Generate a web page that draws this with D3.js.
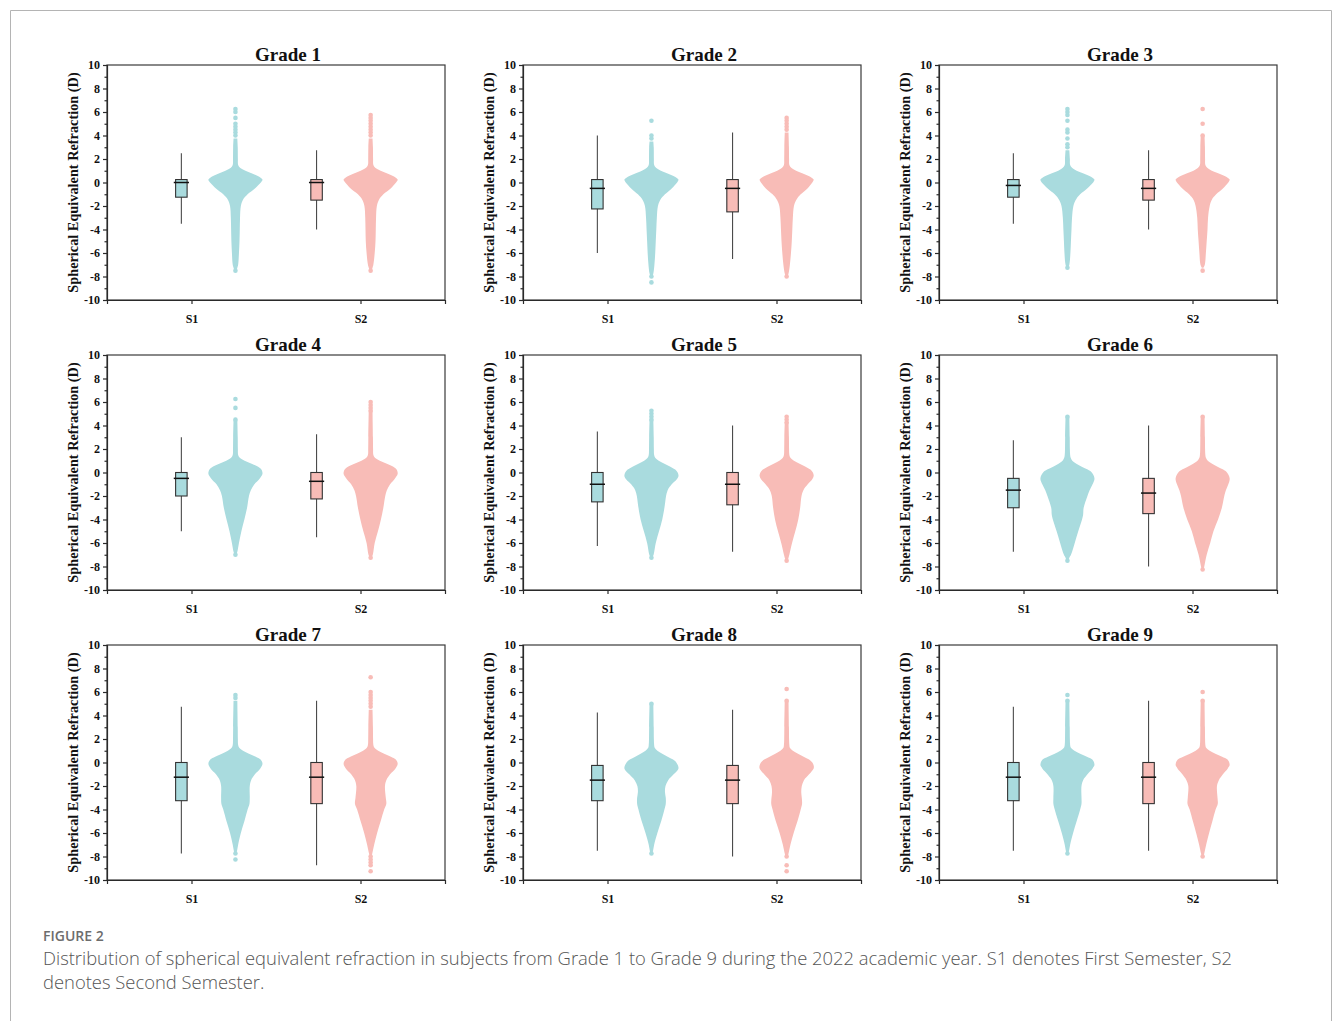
<!DOCTYPE html>
<html>
<head>
<meta charset="utf-8">
<script src="https://cdn.jsdelivr.net/npm/d3@7"></script>
<style>
  html, body { margin: 0; padding: 0; background: #fff; }
  svg { display: block; }
</style>
</head>
<body>
<svg id="fig" width="1333" height="1021"></svg>
<script>
// ---- data ----
const grades = ["Grade 1", "Grade 2", "Grade 3", "Grade 4", "Grade 5", "Grade 6", "Grade 7", "Grade 8", "Grade 9"];
const semesters = ["S1", "S2"];
const yTicks = [-10, -8, -6, -4, -2, 0, 2, 4, 6, 8, 10];
const yMinorTicks = [-9, -7, -5, -3, -1, 1, 3, 5, 7, 9];

// box summaries: [lower whisker, Q1, median, Q3, upper whisker]
const boxS1 = [
  [-3.5, -1.25, 0, 0.25, 2.5],
  [-6.0, -2.25, -0.5, 0.25, 4.0],
  [-3.5, -1.25, -0.25, 0.25, 2.5],
  [-5.0, -2.0, -0.5, 0, 3.0],
  [-6.25, -2.5, -1.0, 0, 3.5],
  [-6.75, -3.0, -1.5, -0.5, 2.75],
  [-7.75, -3.25, -1.25, 0, 4.75],
  [-7.5, -3.25, -1.5, -0.25, 4.25],
  [-7.5, -3.25, -1.25, 0, 4.75]
];
const boxS2 = [
  [-4.0, -1.5, 0, 0.25, 2.75],
  [-6.5, -2.5, -0.5, 0.25, 4.25],
  [-4.0, -1.5, -0.5, 0.25, 2.75],
  [-5.5, -2.25, -0.75, 0, 3.25],
  [-6.75, -2.75, -1.0, 0, 4.0],
  [-8.0, -3.5, -1.75, -0.5, 4.0],
  [-8.75, -3.5, -1.25, 0, 5.25],
  [-8.0, -3.5, -1.5, -0.25, 4.5],
  [-7.5, -3.5, -1.25, 0, 5.25]
];

// density profiles: [SE value (D), relative half-width]
const violinS1 = [
  [[-7.5,0.03],[-7.25,0.07],[-7,0.1],[-6,0.13],[-5,0.15],[-4,0.16],[-3,0.17],[-2,0.2],[-1.5,0.27],[-1,0.45],[-0.5,0.72],[0,0.94],[0.25,1],[0.5,0.88],[0.75,0.64],[1,0.37],[1.25,0.17],[1.5,0.1],[2,0.09],[3,0.085],[3.75,0.07]],
  [[-8,0.03],[-7.75,0.07],[-7,0.11],[-6,0.14],[-5,0.16],[-4,0.18],[-3,0.2],[-2,0.24],[-1.5,0.32],[-1,0.5],[-0.5,0.75],[0,0.95],[0.25,1],[0.5,0.87],[0.75,0.62],[1,0.35],[1.25,0.17],[1.5,0.1],[2,0.09],[3,0.085],[3.5,0.07]],
  [[-7.25,0.03],[-7,0.07],[-6,0.11],[-5,0.13],[-4,0.15],[-3,0.17],[-2,0.22],[-1.5,0.3],[-1,0.47],[-0.5,0.73],[0,0.95],[0.25,1],[0.5,0.87],[0.75,0.62],[1,0.34],[1.25,0.17],[1.5,0.1],[2,0.09],[2.75,0.07]],
  [[-7,0.03],[-6.75,0.07],[-6,0.13],[-5,0.22],[-4,0.33],[-3,0.43],[-2,0.5],[-1.5,0.57],[-1,0.7],[-0.5,0.9],[-0.1,1],[0.25,0.96],[0.5,0.84],[0.75,0.6],[1,0.34],[1.25,0.16],[1.5,0.1],[2,0.09],[3,0.085],[4.5,0.07]],
  [[-7.25,0.03],[-7,0.08],[-6,0.16],[-5,0.28],[-4,0.4],[-3,0.48],[-2.5,0.51],[-2,0.54],[-1.5,0.6],[-1,0.75],[-0.6,0.93],[-0.3,1],[0,0.97],[0.25,0.88],[0.5,0.7],[0.75,0.48],[1,0.27],[1.25,0.14],[1.5,0.1],[2,0.09],[3,0.085],[4.5,0.07]],
  [[-7.5,0.03],[-7.25,0.07],[-7,0.13],[-6,0.27],[-5,0.4],[-4,0.54],[-3.6,0.58],[-3,0.6],[-2,0.74],[-1.5,0.82],[-1,0.93],[-0.5,1],[0,0.9],[0.25,0.75],[0.5,0.53],[0.75,0.33],[1,0.18],[1.25,0.12],[1.5,0.1],[2,0.09],[3,0.085],[4.75,0.07]],
  [[-7.75,0.03],[-7.5,0.06],[-7,0.1],[-6,0.2],[-5,0.33],[-4,0.45],[-3.5,0.52],[-3,0.53],[-2,0.53],[-1.5,0.58],[-1,0.72],[-0.5,0.92],[-0.1,1],[0.25,0.93],[0.5,0.75],[0.75,0.5],[1,0.28],[1.25,0.14],[1.5,0.1],[2,0.09],[3,0.085],[5.25,0.07]],
  [[-7.75,0.03],[-7.5,0.06],[-7,0.1],[-6,0.22],[-5,0.36],[-4,0.48],[-3.5,0.53],[-3,0.53],[-2.5,0.5],[-2,0.52],[-1.5,0.62],[-1,0.82],[-0.5,1],[0,0.92],[0.25,0.8],[0.5,0.6],[0.75,0.4],[1,0.22],[1.25,0.12],[1.5,0.1],[2,0.09],[3,0.085],[5,0.07]],
  [[-7.75,0.03],[-7.5,0.06],[-7,0.1],[-6,0.21],[-5,0.34],[-4,0.47],[-3.5,0.52],[-3,0.52],[-2,0.52],[-1.5,0.58],[-1,0.74],[-0.5,0.93],[-0.2,1],[0.25,0.92],[0.5,0.72],[0.75,0.47],[1,0.26],[1.25,0.13],[1.5,0.1],[2,0.09],[3,0.085],[5.25,0.07]]
];
const violinS2 = [
  [[-7.5,0.03],[-7.25,0.07],[-7,0.1],[-6,0.15],[-5,0.18],[-4,0.19],[-3,0.2],[-2,0.23],[-1.5,0.3],[-1,0.47],[-0.5,0.74],[0,0.94],[0.25,1],[0.5,0.88],[0.75,0.64],[1,0.37],[1.25,0.17],[1.5,0.1],[2,0.09],[3,0.085],[3.75,0.07]],
  [[-8,0.03],[-7.75,0.07],[-7,0.12],[-6,0.16],[-5,0.19],[-4,0.21],[-3,0.23],[-2,0.27],[-1.5,0.35],[-1,0.52],[-0.5,0.77],[0,0.95],[0.25,1],[0.5,0.87],[0.75,0.62],[1,0.35],[1.25,0.17],[1.5,0.1],[2,0.09],[3,0.085],[4.25,0.07]],
  [[-7.25,0.03],[-7,0.08],[-6,0.12],[-5,0.15],[-4,0.18],[-3,0.2],[-2,0.26],[-1.5,0.33],[-1,0.5],[-0.5,0.75],[0,0.95],[0.25,1],[0.5,0.87],[0.75,0.62],[1,0.34],[1.25,0.17],[1.5,0.1],[2,0.09],[3,0.085],[4,0.07]],
  [[-7.25,0.03],[-7,0.08],[-6,0.15],[-5,0.27],[-4,0.38],[-3,0.47],[-2,0.54],[-1.5,0.6],[-1,0.72],[-0.5,0.9],[-0.1,1],[0.25,0.96],[0.5,0.84],[0.75,0.6],[1,0.34],[1.25,0.16],[1.5,0.1],[2,0.09],[3,0.085],[5.25,0.07]],
  [[-7.5,0.03],[-7.25,0.07],[-7,0.1],[-6,0.2],[-5,0.32],[-4,0.43],[-3,0.5],[-2,0.55],[-1.5,0.62],[-1,0.78],[-0.6,0.94],[-0.3,1],[0,0.97],[0.25,0.88],[0.5,0.7],[0.75,0.48],[1,0.27],[1.25,0.14],[1.5,0.1],[2,0.09],[3,0.085],[4.25,0.07]],
  [[-8.25,0.03],[-8,0.06],[-7,0.15],[-6,0.28],[-5,0.4],[-4,0.57],[-3,0.71],[-2,0.8],[-1.5,0.86],[-1,0.95],[-0.5,1],[0,0.9],[0.25,0.76],[0.5,0.55],[0.75,0.35],[1,0.19],[1.25,0.12],[1.5,0.1],[2,0.09],[3,0.085],[4.75,0.07]],
  [[-8,0.03],[-7.75,0.06],[-7,0.13],[-6,0.24],[-5,0.37],[-4,0.5],[-3.5,0.58],[-3,0.56],[-2,0.53],[-1.5,0.58],[-1,0.72],[-0.5,0.92],[-0.1,1],[0.25,0.93],[0.5,0.75],[0.75,0.5],[1,0.28],[1.25,0.14],[1.5,0.1],[2,0.09],[3,0.085],[4.5,0.07]],
  [[-8,0.04],[-7.75,0.07],[-7,0.14],[-6,0.26],[-5,0.4],[-4,0.52],[-3.5,0.57],[-3,0.56],[-2.5,0.54],[-2,0.56],[-1.5,0.64],[-1,0.83],[-0.5,1],[-0.25,1],[0,0.95],[0.25,0.83],[0.5,0.63],[0.75,0.42],[1,0.23],[1.25,0.12],[1.5,0.1],[2,0.09],[3,0.085],[5.25,0.07]],
  [[-8,0.03],[-7.75,0.06],[-7,0.13],[-6,0.24],[-5,0.36],[-4,0.48],[-3.5,0.56],[-3,0.55],[-2,0.53],[-1.5,0.6],[-1,0.75],[-0.5,0.93],[-0.2,1],[0.25,0.92],[0.5,0.72],[0.75,0.47],[1,0.26],[1.25,0.13],[1.5,0.1],[2,0.09],[3,0.085],[5.25,0.07]]
];

// sparse extreme observations beyond the dense body (D)
const tailS1 = [
  [4.0, 4.25, 4.5, 4.75, 5.0, 5.5, 6.0, 6.25, -7.5],
  [3.75, 4.0, 5.25, -8.0, -8.5],
  [3.0, 3.25, 3.75, 4.25, 4.5, 5.25, 5.75, 6.0, 6.25, -7.25],
  [4.5, 5.5, 6.25, -7.0],
  [4.5, 4.75, 5.0, 5.25, -7.25],
  [4.75, -7.5],
  [5.5, 5.75, -7.75, -8.25],
  [5.0, -7.75],
  [5.25, 5.75, -7.75]
];
const tailS2 = [
  [4.0, 4.25, 4.5, 4.75, 5.0, 5.25, 5.5, 5.75, -7.5],
  [4.5, 4.75, 5.0, 5.25, 5.5, -8.0],
  [4.0, 5.0, 6.25, -7.5],
  [5.25, 5.5, 5.75, 6.0, -7.25],
  [4.25, 4.5, 4.75, -7.5],
  [4.75, -8.25],
  [4.75, 5.0, 5.25, 5.5, 5.75, 6.0, 7.25, -8.0, -8.25, -8.5, -8.75, -9.25],
  [5.25, 6.25, -8.0, -8.75, -9.25],
  [5.25, 6.0, -8.0]
];

const semesterColors = ["#a9dbde", "#f8bcb7"];

// ---- layout ----
const serif = "'Liberation Serif', 'Times New Roman', Times, serif";
const plotW = 338, plotH = 235;
const colLeft = [107, 523, 939];
const rowTop = [65, 355, 645];

const svg = d3.select("#fig");

// outer figure frame
svg.append("path")
  .attr("d", "M10.5,1021 V10.5 H1331.5 V1021")
  .attr("fill", "none")
  .attr("stroke", "#b4b4b4")
  .attr("stroke-width", 1);

const x = d3.scaleLinear().domain([0.5, 2.5]).range([0, plotW]);
const y = d3.scaleLinear().domain([-10, 10]).range([plotH, 0]);
const pairCenter = [1.1, 1.9];
const halfGap = 0.16;           // box sits left of the pair centre, violin right
const boxHalf = 0.034;
const medianHalf = 0.045;
const violinHalf = 0.16;

grades.forEach((g, gi) => {
  const col = gi % 3, row = Math.floor(gi / 3);
  const panel = svg.append("g")
    .attr("transform", `translate(${colLeft[col]},${rowTop[row]})`);

  // violins
  [violinS1[gi], violinS2[gi]].forEach((prof, si) => {
    const cx = pairCenter[si] + halfGap;
    const area = d3.area()
      .y(d => y(d[0]))
      .x0(d => x(cx - d[1] * violinHalf))
      .x1(d => x(cx + d[1] * violinHalf))
      .curve(d3.curveCatmullRom.alpha(0.5));
    panel.append("path")
      .datum(prof)
      .attr("d", area)
      .attr("fill", semesterColors[si]);
    const tails = si === 0 ? tailS1[gi] : tailS2[gi];
    panel.selectAll(null)
      .data(tails)
      .enter().append("circle")
      .attr("cx", x(cx))
      .attr("cy", d => y(d))
      .attr("r", 2.3)
      .attr("fill", semesterColors[si]);
  });

  // boxes
  [boxS1[gi], boxS2[gi]].forEach((b, si) => {
    const bx = pairCenter[si] - halfGap;
    panel.append("line")
      .attr("x1", x(bx)).attr("x2", x(bx))
      .attr("y1", y(b[0])).attr("y2", y(b[4]))
      .attr("stroke", "#4a4a4a").attr("stroke-width", 1.1);
    panel.append("rect")
      .attr("x", x(bx - boxHalf))
      .attr("width", x(bx + boxHalf) - x(bx - boxHalf))
      .attr("y", y(b[3]))
      .attr("height", y(b[1]) - y(b[3]))
      .attr("fill", semesterColors[si])
      .attr("stroke", "#333").attr("stroke-width", 1.1);
    panel.append("line")
      .attr("x1", x(bx - medianHalf)).attr("x2", x(bx + medianHalf))
      .attr("y1", y(b[2])).attr("y2", y(b[2]))
      .attr("stroke", "#111").attr("stroke-width", 1.5);
  });

  // frame (top and right)
  panel.append("rect")
    .attr("width", plotW).attr("height", plotH)
    .attr("fill", "none")
    .attr("stroke", "#3a3a3a").attr("stroke-width", 1.2);

  // y axis
  panel.append("g")
    .call(d3.axisLeft(y).tickValues(yTicks).tickSize(4).tickPadding(3).tickFormat(d => String(d)));
  panel.append("g")
    .call(d3.axisLeft(y).tickValues(yMinorTicks).tickSize(2.5).tickFormat(""))
    .call(a => a.select(".domain").remove());

  // x axis
  panel.append("g")
    .attr("transform", `translate(0,${plotH})`)
    .call(d3.axisBottom(x).tickValues([1, 2]).tickSize(4).tickPadding(10)
      .tickFormat((d, i) => semesters[i]));

  panel.selectAll(".tick line, .domain")
    .attr("stroke", "#2a2a2a").attr("stroke-width", 1.2);
  panel.selectAll(".tick text")
    .attr("font-family", serif)
    .attr("font-weight", "bold")
    .attr("font-size", 12)
    .attr("fill", "#111");

  // y axis title
  panel.append("text")
    .attr("transform", `translate(-29,${plotH / 2}) rotate(-90)`)
    .attr("text-anchor", "middle")
    .attr("font-family", serif)
    .attr("font-weight", "bold")
    .attr("font-size", 14.3)
    .attr("fill", "#111")
    .text("Spherical Equivalent Refraction (D)");

  // panel title
  panel.append("text")
    .attr("x", plotW / 2 + 12)
    .attr("y", -4)
    .attr("text-anchor", "middle")
    .attr("font-family", serif)
    .attr("font-weight", "bold")
    .attr("font-size", 19)
    .attr("fill", "#111")
    .text(g);
});

// caption
const sans = "'Open Sans', 'Noto Sans', sans-serif";
svg.append("text")
  .attr("x", 43).attr("y", 941)
  .attr("font-family", sans).attr("font-size", 14).attr("font-weight", 600)
  .attr("fill", "#6d6d6d")
  .text("FIGURE 2");
const captionLines = [
  "Distribution of spherical equivalent refraction in subjects from Grade 1 to Grade 9 during the 2022 academic year. S1 denotes First Semester, S2",
  "denotes Second Semester."
];
svg.selectAll(".cap")
  .data(captionLines)
  .enter().append("text")
  .attr("class", "cap")
  .attr("x", 43)
  .attr("y", (d, i) => 965 + i * 24)
  .attr("font-family", sans).attr("font-size", 18.4).attr("font-weight", 300)
  .attr("fill", "#555")
  .text(d => d);
</script>
</body>
</html>
